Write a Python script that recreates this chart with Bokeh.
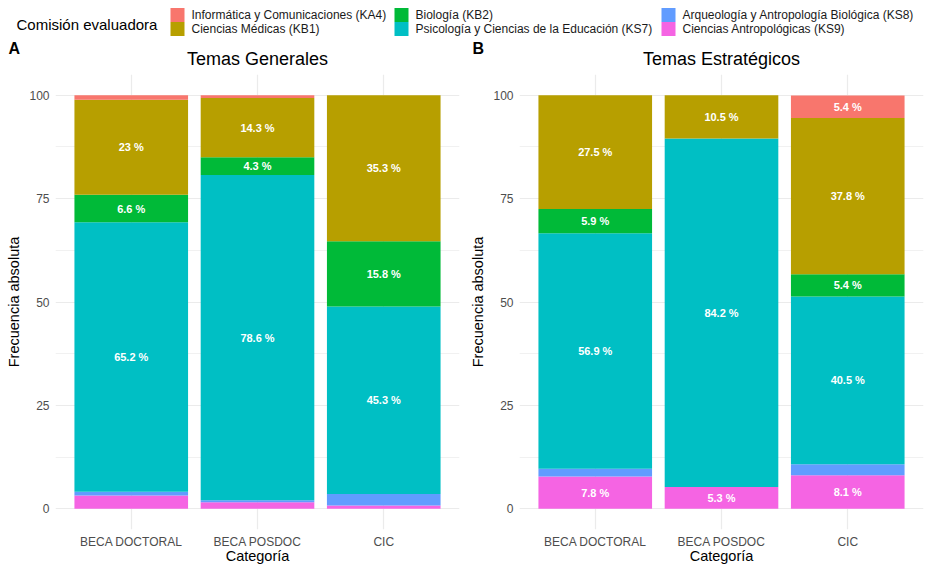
from bokeh.plotting import figure
from bokeh.layouts import column, row
from bokeh.models import FactorRange, Range1d, FixedTicker, ColumnDataSource
from bokeh.core.properties import value
from bokeh.embed import file_html
from bokeh.resources import INLINE

FONT = value("Liberation Sans")

# Categorías del eje x
categorias = ["BECA DOCTORAL", "BECA POSDOC", "CIC"]

# Comisiones evaluadoras (orden de la leyenda)
codigos = ["KA4", "KB1", "KB2", "KS7", "KS8", "KS9"]
nombres = [
    "Informática y Comunicaciones (KA4)",
    "Ciencias Médicas (KB1)",
    "Biología (KB2)",
    "Psicología y Ciencias de la Educación (KS7)",
    "Arqueología y Antropología Biológica (KS8)",
    "Ciencias Antropológicas (KS9)",
]
colores = ["#F8766D", "#B79F00", "#00BA38", "#00BFC4", "#619CFF", "#F564E3"]

# Temas Generales: porcentaje por comisión en cada categoría
generales_KA4 = [1.1, 0.7, 0.0]
generales_KB1 = [23.0, 14.3, 35.3]
generales_KB2 = [6.6, 4.3, 15.8]
generales_KS7 = [65.2, 78.6, 45.3]
generales_KS8 = [0.9, 0.5, 2.8]
generales_KS9 = [3.2, 1.6, 0.8]

# Temas Estratégicos: porcentaje por comisión en cada categoría
estrategicos_KA4 = [0.0, 0.0, 5.4]
estrategicos_KB1 = [27.5, 10.5, 37.8]
estrategicos_KB2 = [5.9, 0.0, 5.4]
estrategicos_KS7 = [56.9, 84.2, 40.5]
estrategicos_KS8 = [1.9, 0.0, 2.7]
estrategicos_KS9 = [7.8, 5.3, 8.1]

generales = dict(KA4=generales_KA4, KB1=generales_KB1, KB2=generales_KB2,
                 KS7=generales_KS7, KS8=generales_KS8, KS9=generales_KS9)
estrategicos = dict(KA4=estrategicos_KA4, KB1=estrategicos_KB1, KB2=estrategicos_KB2,
                    KS7=estrategicos_KS7, KS8=estrategicos_KS8, KS9=estrategicos_KS9)

y_ticks = [0, 25, 50, 75, 100]
y_minor = [12.5, 37.5, 62.5, 87.5]

GRID = "#EBEBEB"


def panel(datos, width, left, right):
    src = ColumnDataSource(dict(categoria=categorias, **datos))
    p = figure(
        x_range=FactorRange(factors=categorias, range_padding=0.1,
                            range_padding_units="absolute"),
        y_range=Range1d(-5, 105),
        width=width, height=496,
        min_border_left=left, min_border_right=right,
        min_border_top=4, min_border_bottom=36,
        output_backend="svg", toolbar_location=None,
    )
    p.outline_line_color = None
    p.background_fill_color = "white"

    # Apilado: KS9 abajo, KA4 arriba
    apilado = codigos[::-1]
    p.vbar_stack(apilado, x="categoria", width=0.9, source=src,
                 color=[colores[codigos.index(c)] for c in apilado],
                 line_color=None)

    # Etiquetas de porcentaje centradas en cada segmento
    lx, ly, lt = [], [], []
    for i, cat in enumerate(categorias):
        base = 0.0
        for c in apilado:
            v = datos[c][i]
            if v > 4:
                lx.append(cat)
                ly.append(base + v / 2)
                lt.append(f"{v:g} %")
            base += v
    p.text(x=lx, y=ly, text=lt, text_font=FONT, text_font_style="bold",
           text_font_size="11px", text_color="white",
           text_align="center", text_baseline="middle")

    # Ejes y grilla
    p.yaxis.ticker = FixedTicker(ticks=y_ticks, minor_ticks=y_minor)
    for ax in (p.xaxis, p.yaxis):
        ax.axis_line_color = None
        ax.major_tick_line_color = None
        ax.minor_tick_line_color = None
        ax.major_tick_out = 0
        ax.major_tick_in = 0
        ax.minor_tick_out = 0
        ax.minor_tick_in = 0
        ax.major_label_text_font = "Liberation Sans"
        ax.major_label_text_font_size = "12px"
        ax.major_label_text_color = "#4D4D4D"
        ax.axis_label_text_font = "Liberation Sans"
        ax.axis_label_text_font_size = "14.5px"
        ax.axis_label_text_font_style = "normal"
        ax.axis_label_text_color = "black"
    p.xaxis.axis_label = "Categoría"
    p.yaxis.axis_label = "Frecuencia absoluta"
    p.xaxis.major_label_standoff = 5
    p.xaxis.axis_label_standoff = -4
    p.yaxis.major_label_standoff = 6
    p.yaxis.axis_label_standoff = 4

    p.xgrid.grid_line_color = GRID
    p.xgrid.grid_line_width = 1.2
    p.ygrid.grid_line_color = GRID
    p.ygrid.grid_line_width = 1.2
    p.ygrid.minor_grid_line_color = GRID
    p.ygrid.minor_grid_line_width = 0.7
    return p


p_a = panel(generales, 462, 55, 3)
p_b = panel(estrategicos, 463, 57, 2)

# Cabecera: leyenda, letras de panel y títulos
h = figure(width=925, height=70, x_range=Range1d(0, 925), y_range=Range1d(70, 0),
           x_axis_type=None, y_axis_type=None, min_border=0,
           output_backend="svg", toolbar_location=None)
h.grid.visible = False
h.outline_line_color = None

h.text(x=[16], y=[24], text=["Comisión evaluadora"], text_font=FONT,
       text_font_size="15px", text_color="black", text_baseline="middle")

sw_x = [177, 177, 401, 401, 668, 668]
sw_y = [14.5, 28.5, 14.5, 28.5, 14.5, 28.5]
h.rect(x=sw_x, y=sw_y, width=14, height=14, color=colores, line_color=None)
h.text(x=[x + 14 for x in sw_x], y=sw_y, text=nombres, text_font=FONT,
       text_font_size="12px", text_color="#1A1A1A", text_baseline="middle")

h.text(x=[8, 472], y=[48, 48], text=["A", "B"], text_font=FONT,
       text_font_style="bold", text_font_size="16px", text_color="black",
       text_baseline="middle")
h.text(x=[257, 721], y=[58, 58], text=["Temas Generales", "Temas Estratégicos"],
       text_font=FONT, text_font_size="18px", text_color="black",
       text_align="center", text_baseline="middle")

layout = column(h, row(p_a, p_b))

with open("out.html", "w") as f:
    f.write(file_html(layout, INLINE))
